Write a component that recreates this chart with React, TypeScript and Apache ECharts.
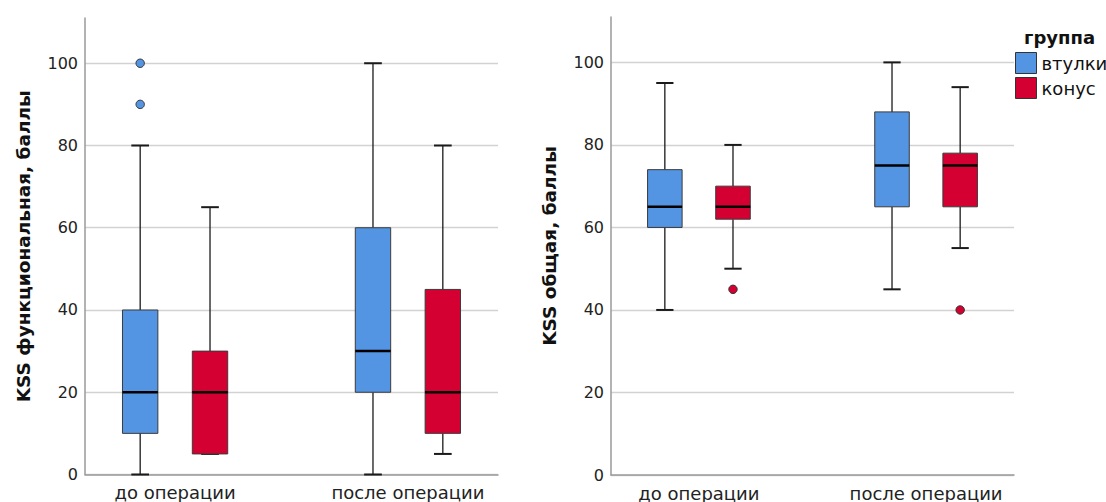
import React, { useEffect, useRef } from "react";
import * as echarts from "echarts";

// ---- data ----
const categories = ["до операции", "после операции"];
const groups = ["втулки", "конус"];
// [min, q1, median, q3, max] per category
const funcBushing = [
  [0, 10, 20, 40, 80],
  [0, 20, 30, 60, 100],
];
const funcCone = [
  [5, 5, 20, 30, 65],
  [5, 10, 20, 45, 80],
];
// [categoryIndex, value]
const funcBushingOutliers = [
  [0, 90],
  [0, 100],
];
const funcConeOutliers: number[][] = [];
const totalBushing = [
  [40, 60, 65, 74, 95],
  [45, 65, 75, 88, 100],
];
const totalCone = [
  [50, 62, 65, 70, 80],
  [55, 65, 75, 78, 94],
];
const totalBushingOutliers: number[][] = [];
const totalConeOutliers = [
  [0, 45],
  [1, 40],
];
const yTitles = ["KSS функциональная, баллы", "KSS общая, баллы"];

// ---- style ----
const BLUE = "#5495e3";
const RED = "#d50032";
const FONT = "DejaVu Sans";
const OFFSET = 0.15;
const BOX_W = 0.152;
const X_MIN = 0.613;
const X_MAX = 2.387;

function boxRender(offset: number, color: string) {
  return (_p: any, api: any) => {
    const x = api.value(0) + offset;
    const mn = api.value(1);
    const q1 = api.value(2);
    const md = api.value(3);
    const q3 = api.value(4);
    const mx = api.value(5);
    const px = api.coord([x, 0])[0];
    const y = (v: number) => api.coord([x, v])[1];
    const w = api.size([BOX_W, 0])[0];
    const cap = w / 2;
    const wl = { stroke: "#1a1a1a", lineWidth: 1.3 };
    const cl = { stroke: "#1a1a1a", lineWidth: 2 };
    return {
      type: "group",
      children: [
        { type: "line", shape: { x1: px, y1: y(mx), x2: px, y2: y(q3) }, style: wl },
        { type: "line", shape: { x1: px, y1: y(q1), x2: px, y2: y(mn) }, style: wl },
        { type: "line", shape: { x1: px - cap / 2, y1: y(mx), x2: px + cap / 2, y2: y(mx) }, style: cl },
        { type: "line", shape: { x1: px - cap / 2, y1: y(mn), x2: px + cap / 2, y2: y(mn) }, style: cl },
        {
          type: "rect",
          shape: { x: px - w / 2, y: y(q3), width: w, height: y(q1) - y(q3) },
          style: { fill: color, stroke: "#3a3a3a", lineWidth: 1 },
        },
        { type: "line", shape: { x1: px - w / 2, y1: y(md), x2: px + w / 2, y2: y(md) }, style: { stroke: "#000", lineWidth: 2.5 } },
      ],
    };
  };
}

function outlierRender(offset: number, color: string) {
  return (_p: any, api: any) => {
    const [cx, cy] = api.coord([api.value(0) + offset, api.value(1)]);
    return { type: "circle", shape: { cx, cy, r: 4.2 }, style: { fill: color, stroke: "#333", lineWidth: 1 } };
  };
}

function boxData(arr: number[][]) {
  return arr.map((r, i) => [i + 1, ...r]);
}
function outData(arr: number[][]) {
  return arr.map(([i, v]) => [i + 1, v]);
}

export default function App() {
  const ref = useRef<HTMLDivElement>(null);
  useEffect(() => {
    if (!ref.current) return;
    const chart = echarts.init(ref.current, null, { renderer: "svg" });
    const grids = [
      { left: 85, right: 608, top: 18, bottom: 27.5 },
      { left: 611, right: 92, top: 17, bottom: 27 },
    ];
    const xAxes = grids.map((_, gi) => ({
      type: "value",
      gridIndex: gi,
      min: X_MIN,
      max: X_MAX,
      axisLine: { show: true, lineStyle: { color: "#9a9a9a", width: 1.5 } },
      axisTick: { show: false },
      splitLine: { show: false },
      axisLabel: {
        customValues: [1, 2],
        formatter: (v: number) => categories[Math.round(v) - 1] ?? "",
        fontFamily: FONT,
        fontSize: 18,
        color: "#222",
        margin: 9,
      },
    }));
    const yAxes = grids.map((_, gi) => ({
      type: "value",
      gridIndex: gi,
      min: 0,
      max: 111,
      interval: 20,
      name: yTitles[gi],
      nameLocation: "middle",
      nameGap: 52,
      nameTextStyle: { fontFamily: FONT, fontSize: 18.5, fontWeight: "bold", color: "#111" },
      axisLine: { show: true, lineStyle: { color: "#9a9a9a", width: 1.5 } },
      axisTick: { show: false },
      axisLabel: { fontFamily: FONT, fontSize: 16, color: "#222", margin: 7, showMaxLabel: false },
      splitLine: { show: true, showMaxLine: false, lineStyle: { color: "#d2d2d2", width: 1.3 } },
    }));
    const sets = [
      [funcBushing, funcCone, funcBushingOutliers, funcConeOutliers],
      [totalBushing, totalCone, totalBushingOutliers, totalConeOutliers],
    ];
    const series: any[] = [];
    sets.forEach(([b, c, bo, co], gi) => {
      series.push({
        type: "custom", name: groups[0], xAxisIndex: gi, yAxisIndex: gi,
        itemStyle: { color: BLUE }, renderItem: boxRender(-OFFSET, BLUE),
        encode: { x: 0, y: [1, 2, 3, 4, 5] }, data: boxData(b),
      });
      series.push({
        type: "custom", name: groups[1], xAxisIndex: gi, yAxisIndex: gi,
        itemStyle: { color: RED }, renderItem: boxRender(OFFSET, RED),
        encode: { x: 0, y: [1, 2, 3, 4, 5] }, data: boxData(c),
      });
      series.push({
        type: "custom", name: groups[0], xAxisIndex: gi, yAxisIndex: gi,
        itemStyle: { color: BLUE }, renderItem: outlierRender(-OFFSET, BLUE),
        encode: { x: 0, y: 1 }, data: outData(bo),
      });
      series.push({
        type: "custom", name: groups[1], xAxisIndex: gi, yAxisIndex: gi,
        itemStyle: { color: RED }, renderItem: outlierRender(OFFSET, RED),
        encode: { x: 0, y: 1 }, data: outData(co),
      });
    });
    chart.setOption({
      animation: false,
      backgroundColor: "#fff",
      title: {
        text: "группа", left: 1024, top: 28, padding: 0,
        textStyle: { fontFamily: FONT, fontSize: 18, fontWeight: "bold", color: "#111" },
      },
      legend: {
        data: groups,
        orient: "vertical",
        left: 1015,
        top: 52,
        padding: 0,
        icon: "rect",
        itemWidth: 21,
        itemHeight: 21,
        itemGap: 3,
        selectedMode: false,
        itemStyle: { borderColor: "#333", borderWidth: 1 },
        textStyle: { fontFamily: FONT, fontSize: 18, color: "#111" },
      },
      grid: grids,
      xAxis: xAxes,
      yAxis: yAxes,
      series,
    });
    return () => chart.dispose();
  }, []);
  return <div ref={ref} style={{ position: "fixed", left: 0, top: 0, width: 1106, height: 502 }} />;
}
